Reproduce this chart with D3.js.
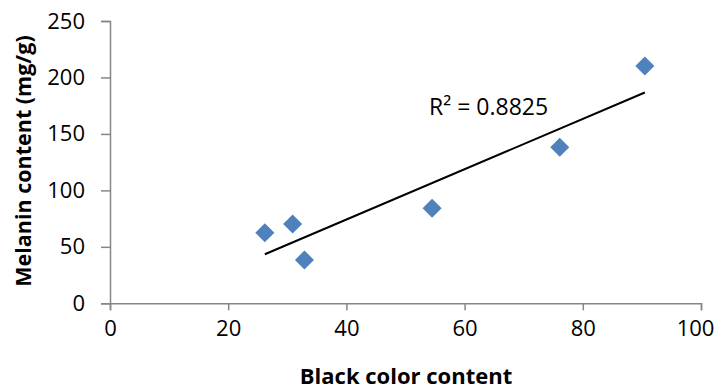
<!DOCTYPE html>
<html><head><meta charset="utf-8">
<script src="https://cdn.jsdelivr.net/npm/d3@7"></script>
<style>body{margin:0;background:#fff}svg{display:block}</style>
</head><body>
<script>
const blackContent = [26.2, 30.9, 32.9, 54.5, 76.1, 90.5];
const melanin = [62.5, 70.2, 38.4, 84.1, 138.2, 210.2];
const xTicks = [0, 20, 40, 60, 80, 100];
const yTicks = [0, 50, 100, 150, 200, 250];
const r2Label = "R² = 0.8825";
const xTitle = "Black color content";
const yTitle = "Melanin content (mg/g)";

const W = 721, H = 389;
const svg = d3.select("body").append("svg").attr("width", W).attr("height", H);
const x = d3.scaleLinear().domain([0, 100]).range([110, 701]);
const y = d3.scaleLinear().domain([0, 250]).range([303.3, 21]);
const font = "'Open Sans', sans-serif";
const axisColor = "#868686";

const xa = svg.append("g").attr("transform", `translate(0,${y(0)})`)
  .call(d3.axisBottom(x).tickValues(xTicks).tickSize(7).tickPadding(10).tickFormat(d3.format("d")));
const ya = svg.append("g").attr("transform", `translate(${x(0)},0)`)
  .call(d3.axisLeft(y).tickValues(yTicks).tickSize(9).tickPadding(16).tickFormat(d3.format("d")));
[xa, ya].forEach(g => {
  g.select(".domain").attr("stroke", axisColor).attr("stroke-width", 1.5);
  g.selectAll(".tick line").attr("stroke", axisColor).attr("stroke-width", 1.5);
  g.selectAll("text").attr("fill", "#000").style("font-family", font).style("font-size", "22px");
});
xa.selectAll(".tick").filter(d => d === 100).select("text").attr("dx", -6);

// regression
const n = blackContent.length;
const mx = d3.mean(blackContent), my = d3.mean(melanin);
let sxy = 0, sxx = 0;
for (let i = 0; i < n; i++) { sxy += (blackContent[i]-mx)*(melanin[i]-my); sxx += (blackContent[i]-mx)**2; }
const slope = sxy / sxx, icpt = my - slope * mx;
const [x0, x1] = d3.extent(blackContent);
svg.append("line")
  .attr("x1", x(x0)).attr("y1", y(icpt + slope * x0))
  .attr("x2", x(x1)).attr("y2", y(icpt + slope * x1))
  .attr("stroke", "#000").attr("stroke-width", 2);

const s = 6.8;
svg.append("g").selectAll("path").data(blackContent.map((v, i) => [v, melanin[i]])).join("path")
  .attr("transform", d => `translate(${x(d[0])},${y(d[1])})`)
  .attr("d", `M0,${-s*1.4}L${s*1.4},0L0,${s*1.4}L${-s*1.4},0Z`)
  .attr("fill", "#4F81BD");

svg.append("text").attr("x", 429).attr("y", 115).text(r2Label)
  .style("font-family", font).style("font-size", "23px").attr("fill", "#000");

svg.append("text").attr("x", 406).attr("y", 384).attr("text-anchor", "middle").text(xTitle)
  .style("font-family", font).style("font-size", "22px").style("font-weight", "bold");
svg.append("text").attr("transform", "translate(31,161) rotate(-90)").attr("text-anchor", "middle").text(yTitle)
  .style("font-family", font).style("font-size", "21.5px").style("font-weight", "bold");
</script>
</body></html>
